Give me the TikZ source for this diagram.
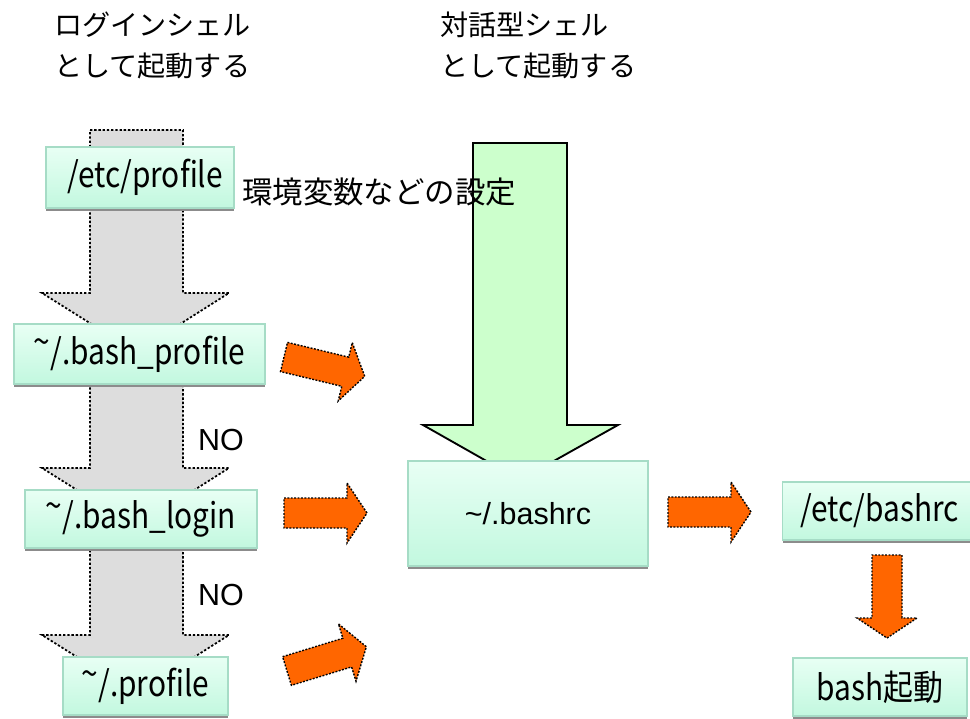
\documentclass[tikz,border=0pt]{standalone}
\usepackage{fontspec}
\setmainfont{Liberation Sans}
\newfontfamily\jafont{Noto Sans CJK JP}
\newfontfamily\boxfont[FakeStretch=0.85]{Noto Sans CJK JP}
\usetikzlibrary{shadows}
\definecolor{boxtop}{HTML}{E8FFF4}
\definecolor{boxbottom}{HTML}{C2F8DF}
\definecolor{boxline}{HTML}{A6DCC6}
\definecolor{loginfill}{HTML}{DDDDDD}
\definecolor{rcfill}{HTML}{CCFFCC}
\definecolor{flowfill}{HTML}{FF6600}
\newcommand{\hometilde}{\raisebox{0.28em}{\textasciitilde}}
\begin{document}
\begin{tikzpicture}
[x=0.03cm,y=-0.03cm,
  filebox/.style={draw=boxline,line width=1.2pt,top color=boxtop,
    bottom color=boxbottom,inner sep=0pt,
    drop shadow={shadow xshift=0pt,shadow yshift=-2.5pt,fill=black!45,opacity=1},
    font=\boxfont\fontsize{30}{32}\selectfont},
  loginarrow/.style={fill=loginfill,draw=black,line width=1.5pt,
    dash pattern=on 2pt off 1.6pt},
  rcarrow/.style={draw=black,fill=rcfill,line width=1.6pt},
  flowarrow/.style={fill=flowfill,draw=black,line width=1.2pt,
    dash pattern=on 1.6pt off 1.3pt},
  titletext/.style={anchor=west,align=left,
    font=\jafont\fontsize{24}{35}\selectfont},
  notext/.style={anchor=west,font=\fontsize{26}{28}\selectfont}]
\useasboundingbox (0,0) rectangle (970,718);
%% titles
\node (logintitle) at (50,45) [titletext] {ログインシェル\\として起動する};
\node (rctitle) at (436,45) [titletext] {対話型シェル\\として起動する};
%% login chain arrows
\foreach \top/\wing/\tip in {130/293/352, 385/468/527, 548/635/694} {
  \draw[loginarrow] (90,\top) -- (183,\top) -- (183,\wing) -- (229,\wing)
    -- (136,\tip) -- (42,\wing) -- (90,\wing) -- cycle;
}
%% interactive arrow
\draw[rcarrow] (473,143) -- (567,143) -- (567,425) -- (618,425)
  -- (520,480) -- (423,425) -- (473,425) -- cycle;
%% files
\node (etcprofile) at (140,177.5) [filebox,minimum width=5.64cm,
  minimum height=1.83cm] {\hspace{0.3em}/etc/profile};
\node (bashprofile) at (139.5,354) [filebox,minimum width=7.53cm,
  minimum height=1.8cm] {\hometilde/.bash\_profile};
\node (bashlogin) at (141,519) [filebox,minimum width=6.96cm,
  minimum height=1.74cm] {\hometilde/.bash\_login};
\node (profile) at (145.5,686) [filebox,minimum width=4.95cm,
  minimum height=1.74cm] {\hometilde/.profile};
\node (bashrc) at (528,513.5) [filebox,minimum width=7.2cm,
  minimum height=3.15cm,font=\fontsize{26}{28}\selectfont]
  {\textasciitilde/.bashrc};
\node (etcbashrc) at (880,511) [filebox,minimum width=5.85cm,
  minimum height=1.74cm] {/etc/bashrc};
\node (bashboot) at (880,687) [filebox,minimum width=5.22cm,
  minimum height=1.74cm] {bash起動};
%% labels
\node (envnote) at (238,192) [anchor=west,
  font=\jafont\fontsize{26}{28}\selectfont] {環境変数などの設定};
\node (no1) at (194,440) [notext] {NO};
\node (no2) at (194,595) [notext] {NO};
%% flow arrows
\foreach \x/\y/\ang in {284/357/-13.5, 284/513/0, 287/671/17, 668/512/0,
  887/555/-90} {
  \draw[flowarrow,shift={(\x,\y)},rotate=\ang] (0,-15) -- (63,-15)
    -- (63,-30) -- (83,0) -- (63,30) -- (63,15) -- (0,15) -- cycle;
}
\end{tikzpicture}
\end{document}
